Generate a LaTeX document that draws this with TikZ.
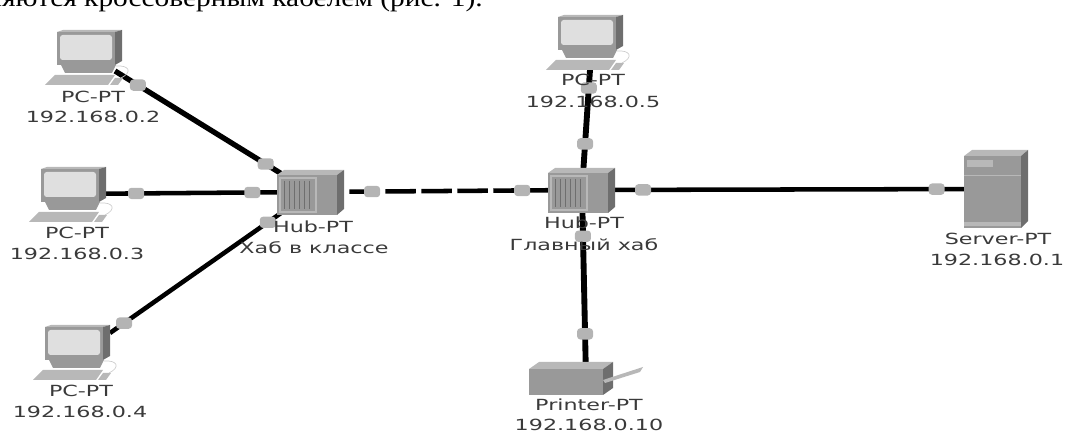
\documentclass[tikz,border=0pt]{standalone}
\usepackage{fontspec}
\setmainfont{DejaVu Sans}
\newfontfamily\bookfont{Liberation Serif}
\usetikzlibrary{positioning}
\definecolor{portgray}{HTML}{B4B4B4}
\definecolor{bodygray}{HTML}{999999}
\definecolor{sidegray}{HTML}{6E6E6E}
\definecolor{topgray}{HTML}{B8B8B8}
\definecolor{textgray}{HTML}{3A3A3A}
\tikzset{
  device/.style={minimum size=0pt,inner sep=0pt},
  cable/.style={line width=3.4pt,black},
  vcable/.style={line width=4.4pt,black},
  port/.style={fill=portgray,rounded corners=2.5pt,minimum width=12pt,minimum height=8.5pt,inner sep=0pt},
  lbl/.style={text=textgray,font=\fontsize{11.5}{13}\selectfont,inner sep=0pt,anchor=center,xscale=1.45,transform shape},
  pcicon/.pic={
    \fill[topgray] (-26,-25) -- (-20,-27) -- (39,-27) -- (32,-25) -- cycle;
    \fill[bodygray] (-26,-25) rectangle (32,8);
    \fill[sidegray] (32,-25) -- (39,-27) -- (39,4) -- (32,8) -- cycle;
    \fill[gray!25,rounded corners=2pt] (-23,-22) rectangle (29,3);
    \fill[bodygray] (-22,8) -- (33,8) -- (29,16) -- (-18,16) -- cycle;
    \fill[topgray] (-38,28) -- (-28,18) -- (32,18) -- (25,28) -- cycle;
    \fill[topgray] (27,28) -- (32,21) -- (40,21) -- (35,28) -- cycle;
    \draw[gray!40,line width=.5pt] (33,9) .. controls (46,8) and (50,15) .. (38,21);
  },
  hubicon/.pic={
    \fill[topgray] (-34,-17) -- (-27,-22) -- (33,-22) -- (26,-17) -- cycle;
    \fill[bodygray] (-34,-17) rectangle (26,23);
    \fill[sidegray] (26,-17) -- (33,-22) -- (33,17) -- (26,23) -- cycle;
    \draw[topgray,line width=.8pt] (-31,-14) rectangle (5,20);
    \foreach \sx in {-27,-22,...,0}
      \draw[sidegray,line width=.7pt] (\sx,-11) -- (\sx,17);
  },
  servericon/.pic={
    \fill[topgray] (-32,-33) -- (-24,-39) -- (32,-39) -- (25,-33) -- cycle;
    \fill[bodygray] (-32,-33) rectangle (25,39);
    \fill[sidegray] (25,-33) -- (32,-39) -- (32,32) -- (25,39) -- cycle;
    \fill[topgray] (-29,-29) rectangle (-3,-22);
    \draw[topgray,line width=.5pt] (-32,-14) -- (25,-14);
    \fill[topgray] (-32,33) rectangle (25,37);
  },
  printericon/.pic={
    \fill[topgray] (-57,-9) -- (-47,-16) -- (27,-16) -- (17,-9) -- cycle;
    \fill[bodygray] (-57,-9) rectangle (17,17);
    \fill[sidegray] (17,-9) -- (27,-16) -- (27,10) -- (17,17) -- cycle;
    \fill[topgray] (17,2) -- (57,-11) -- (54,-6) -- (19,5) -- cycle;
  }
}
\begin{document}
\begin{tikzpicture}[x=.75pt,y=-.75pt]
  \useasboundingbox (0,0) rectangle (1065,434);
  \clip (0,0) rectangle (1065,434);
  \node[anchor=base west,inner sep=0pt,font=\bookfont\fontsize{19}{22}\selectfont,xscale=1.16,transform shape] (caption) at (-14,7) {няются кроссоверным кабелем (рис. 1).};

  \node[device] (pc2) at (83,57) {};
  \node[device] (pc3) at (67,194) {};
  \node[device] (pc4) at (71,352) {};
  \node[device] (pc5) at (584,42) {};
  \node[device] (hub1) at (311,192) {};
  \node[device] (hub2) at (582,190) {};
  \node[device] (srv) at (996,189) {};
  \node[device] (prn) at (586,378) {};
  \coordinate (pc2p) at (115,71);
  \coordinate (pc4p) at (110,333);
  \coordinate (pc5p) at (590,70);

  \draw[cable,line width=4pt] (pc2p) -- (hub1) node[port,pos=.117] (p2a) {} node[port,pos=.77] (p2b) {};
  \draw[cable] (pc3) -- (hub1) node[port,pos=.283] (p3a) {} node[port,pos=.76] (p3b) {};
  \draw[cable] (pc4p) -- (hub1) node[port,pos=.07] (p4a) {} node[port,pos=.786] (p4b) {};
  \draw[cable,dash pattern=on 23pt off 4pt,dash phase=-1.5pt] (hub1) -- (hub2) node[port,pos=.225] (h1p) {} node[port,pos=.78] (h2p) {};
  \draw[vcable] (pc5p) -- (hub2) node[port,pos=.15] (p5a) {} node[port,pos=.617] (p5b) {};
  \draw[cable] (hub2) -- (srv) node[port,pos=.147] (sa) {} node[port,pos=.857] (sb) {};
  \draw[vcable] (hub2) -- (prn) node[port,pos=.245] (pra) {} node[port,pos=.766] (prb) {};

  \pic at (pc2) {pcicon};
  \pic at (pc3) {pcicon};
  \pic at (pc4) {pcicon};
  \pic at (pc5) {pcicon};
  \pic at (hub1) {hubicon};
  \pic at (hub2) {hubicon};
  \pic at (srv) {servericon};
  \pic at (prn) {printericon};

  \node[lbl] (pc2a) at (93,97) {PC-PT};
  \node[lbl] (pc2b) at (93,117) {192.168.0.2};
  \node[lbl] (pc3a) at (77,233) {PC-PT};
  \node[lbl] (pc3b) at (77,254) {192.168.0.3};
  \node[lbl] (pc4a) at (81,391) {PC-PT};
  \node[lbl] (pc4b) at (80,412) {192.168.0.4};
  \node[lbl] (pc5a) at (593,80) {PC-PT};
  \node[lbl] (pc5b) at (593,102) {192.168.0.5};
  \node[lbl] (hub1a) at (313,227) {Hub-PT};
  \node[lbl] (hub1b) at (314,248) {Хаб в классе};
  \node[lbl] (hub2a) at (584,223) {Hub-PT};
  \node[lbl] (hub2b) at (584,245) {Главный хаб};
  \node[lbl] (srva) at (998,239) {Server-PT};
  \node[lbl] (srvb) at (997,260) {192.168.0.1};
  \node[lbl] (prna) at (589,405) {Printer-PT};
  \node[lbl] (prnb) at (589,425) {192.168.0.10};
\end{tikzpicture}
\end{document}
